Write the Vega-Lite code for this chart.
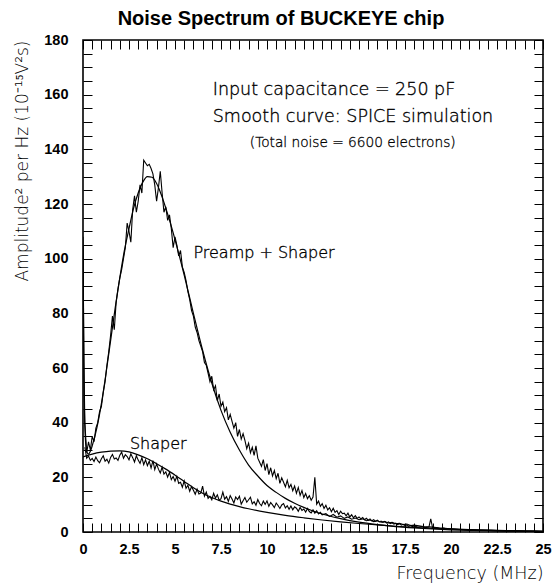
{
  "$schema": "https://vega.github.io/schema/vega-lite/v6.json",
  "width": 460,
  "height": 492,
  "autosize": "none",
  "padding": {"left": 83, "top": 40, "right": 10, "bottom": 54},
  "config": {
    "view": {"stroke": "#000", "strokeWidth": 1.6},
    "axis": {"grid": false, "domain": false, "tickColor": "#000", "tickWidth": 1, "labelColor": "#000", "titleColor": "#000", "labelFont": "Liberation Sans", "labelFontWeight": "bold", "labelFontSize": 14.5, "titleFont": "DejaVu Sans", "titleFontWeight": 200, "labelOverlap": false, "labelFlush": false}
  },
  "title": {"text": "Noise Spectrum of BUCKEYE chip", "font": "Liberation Sans", "fontWeight": "bold", "fontSize": 20, "color": "#000", "anchor": "middle", "dx": -32, "offset": 3},
  "datasets": {
    "ps_meas": [
      {"x":0,"y":108},{"x":0.05,"y":62},{"x":0.1,"y":40},{"x":0.2,"y":29},{"x":0.3,"y":33},{"x":0.4,"y":30},{"x":0.5,"y":35},{"x":0.6,"y":33},{"x":0.7,"y":38},{"x":0.8,"y":40},{"x":0.9,"y":44},
      {"x":1.0,"y":46},{"x":1.1,"y":51},{"x":1.2,"y":55},{"x":1.3,"y":61},{"x":1.4,"y":66},{"x":1.5,"y":72},{"x":1.6,"y":79},{"x":1.7,"y":74},{"x":1.8,"y":84},{"x":1.9,"y":89},
      {"x":2.0,"y":93},{"x":2.1,"y":96},{"x":2.2,"y":100},{"x":2.3,"y":104},{"x":2.4,"y":113},{"x":2.5,"y":110},{"x":2.6,"y":106},{"x":2.7,"y":118},{"x":2.8,"y":123},{"x":2.9,"y":117},
      {"x":3.0,"y":121},{"x":3.1,"y":127},{"x":3.2,"y":124},{"x":3.3,"y":136},{"x":3.4,"y":135},{"x":3.5,"y":134},{"x":3.6,"y":134.5},{"x":3.7,"y":133},{"x":3.8,"y":131},{"x":3.9,"y":127},
      {"x":4.0,"y":121},{"x":4.1,"y":126},{"x":4.2,"y":132},{"x":4.3,"y":124},{"x":4.4,"y":117},{"x":4.5,"y":119},{"x":4.6,"y":114},{"x":4.7,"y":116},{"x":4.8,"y":111},{"x":4.9,"y":104},
      {"x":5.0,"y":108},{"x":5.1,"y":105},{"x":5.2,"y":101},{"x":5.3,"y":103},{"x":5.4,"y":97},{"x":5.5,"y":95},{"x":5.6,"y":92},{"x":5.7,"y":88},{"x":5.8,"y":85},{"x":5.9,"y":81},
      {"x":6.0,"y":79},{"x":6.1,"y":75},{"x":6.2,"y":73},{"x":6.3,"y":70},{"x":6.4,"y":68},{"x":6.5,"y":66},{"x":6.6,"y":62},{"x":6.7,"y":61},{"x":6.8,"y":58},{"x":6.9,"y":55},
      {"x":7.0,"y":57},{"x":7.1,"y":52},{"x":7.2,"y":53.5},{"x":7.3,"y":48},{"x":7.4,"y":50.5},{"x":7.5,"y":46},{"x":7.6,"y":47.5},{"x":7.7,"y":44},{"x":7.8,"y":45.5},{"x":7.9,"y":41},
      {"x":8.0,"y":43},{"x":8.1,"y":40.5},{"x":8.2,"y":38},{"x":8.3,"y":40},{"x":8.4,"y":35},{"x":8.5,"y":37.5},{"x":8.6,"y":34},{"x":8.7,"y":36},{"x":8.8,"y":33.5},{"x":8.9,"y":30.5},
      {"x":9.0,"y":32.5},{"x":9.1,"y":29},{"x":9.2,"y":31},{"x":9.3,"y":28},{"x":9.4,"y":31.5},{"x":9.5,"y":27},{"x":9.6,"y":25.5},{"x":9.7,"y":24},{"x":9.8,"y":26.5},{"x":9.9,"y":22.5},
      {"x":10.0,"y":25},{"x":10.1,"y":21},{"x":10.2,"y":23.5},{"x":10.3,"y":20.5},{"x":10.4,"y":22.5},{"x":10.5,"y":19.5},{"x":10.6,"y":21.5},{"x":10.7,"y":17.8},{"x":10.8,"y":19.8},{"x":10.9,"y":18.2},
      {"x":11.0,"y":16.5},{"x":11.1,"y":18.9},{"x":11.2,"y":16.2},{"x":11.3,"y":17.4},{"x":11.4,"y":15.1},{"x":11.5,"y":16.8},{"x":11.6,"y":14.2},{"x":11.7,"y":16.3},{"x":11.8,"y":13.4},{"x":11.9,"y":15.2},
      {"x":12.0,"y":12.6},{"x":12.1,"y":14.1},{"x":12.2,"y":12.2},{"x":12.3,"y":13.3},{"x":12.4,"y":11.6},{"x":12.5,"y":12.8},{"x":12.6,"y":20},{"x":12.7,"y":10.2},{"x":12.8,"y":11.3},{"x":12.9,"y":9.4},
      {"x":13.0,"y":10.4},{"x":13.1,"y":8.6},{"x":13.2,"y":9.8},{"x":13.3,"y":8.1},{"x":13.4,"y":8.9},{"x":13.5,"y":7.4},{"x":13.6,"y":8.7},{"x":13.7,"y":7.2},{"x":13.8,"y":7.8},{"x":13.9,"y":6.4},
      {"x":14.0,"y":7.6},{"x":14.1,"y":6.7},{"x":14.2,"y":6.9},{"x":14.3,"y":5.9},{"x":14.4,"y":6.9},{"x":14.5,"y":5.5},{"x":14.6,"y":6.3},{"x":14.7,"y":5.2},{"x":14.8,"y":6},{"x":14.9,"y":5},
      {"x":15.0,"y":5.5},{"x":15.1,"y":4.8},{"x":15.2,"y":5.3},{"x":15.3,"y":4.5},{"x":15.4,"y":5},{"x":15.5,"y":4.3},{"x":15.6,"y":4.8},{"x":15.7,"y":4.1},{"x":15.8,"y":4.5},{"x":15.9,"y":3.9},
      {"x":16.0,"y":4.3},{"x":16.1,"y":3.7},{"x":16.2,"y":4},{"x":16.3,"y":3.5},{"x":16.4,"y":3.9},{"x":16.5,"y":3.3},{"x":16.6,"y":3.7},{"x":16.7,"y":3.1},{"x":16.8,"y":3.4},{"x":16.9,"y":2.9},
      {"x":17.0,"y":3.2},{"x":17.1,"y":2.7},{"x":17.2,"y":3},{"x":17.3,"y":2.5},{"x":17.4,"y":2.8},{"x":17.5,"y":2.3},{"x":17.6,"y":2.6},{"x":17.7,"y":2.1},{"x":17.8,"y":2.4},{"x":17.9,"y":2},
      {"x":18.0,"y":2.2},{"x":18.2,"y":1.8},{"x":18.4,"y":2},{"x":18.6,"y":1.6},{"x":18.8,"y":1.8},{"x":18.9,"y":4.8},{"x":19.0,"y":1.5},{"x":19.2,"y":1.6},{"x":19.4,"y":1.3},{"x":19.6,"y":1.4},{"x":19.8,"y":1.1},
      {"x":20.0,"y":1.2},{"x":20.5,"y":0.9},{"x":21,"y":0.8},{"x":21.5,"y":0.6},{"x":22,"y":0.6},{"x":22.5,"y":0.5},{"x":23,"y":0.4},{"x":23.5,"y":0.4},{"x":24,"y":0.3},{"x":24.5,"y":0.3},{"x":25,"y":0.2}
    ],
    "ps_sim": [
      {"x":0,"y":105},{"x":0.03,"y":75},{"x":0.06,"y":52},{"x":0.1,"y":39},{"x":0.15,"y":32},{"x":0.2,"y":29.5},{"x":0.3,"y":28.5},{"x":0.4,"y":29.5},{"x":0.5,"y":31.5},{"x":0.75,"y":38},
      {"x":1.0,"y":47},{"x":1.25,"y":58},{"x":1.5,"y":70},{"x":1.75,"y":82},{"x":2.0,"y":93},{"x":2.25,"y":103},{"x":2.5,"y":111},{"x":2.75,"y":118.5},{"x":3.0,"y":124},{"x":3.25,"y":128},
      {"x":3.5,"y":130},{"x":3.75,"y":129.8},{"x":4.0,"y":127.5},{"x":4.25,"y":123.5},{"x":4.5,"y":118.5},{"x":4.75,"y":113},{"x":5.0,"y":107},{"x":5.5,"y":94},{"x":6.0,"y":80},{"x":6.5,"y":66.5},
      {"x":7.0,"y":54.5},{"x":7.5,"y":44.5},{"x":8.0,"y":36.5},{"x":8.5,"y":30},{"x":9.0,"y":24.5},{"x":9.5,"y":20.5},{"x":10,"y":17},{"x":10.5,"y":14.5},{"x":11,"y":12.3},{"x":11.5,"y":10.5},
      {"x":12,"y":9},{"x":12.5,"y":7.7},{"x":13,"y":6.6},{"x":14,"y":4.9},{"x":15,"y":3.6},{"x":16,"y":2.7},{"x":17,"y":2},{"x":18,"y":1.5},{"x":19,"y":1.1},{"x":20,"y":0.8},
      {"x":21,"y":0.6},{"x":22,"y":0.45},{"x":23,"y":0.35},{"x":24,"y":0.25},{"x":25,"y":0.2}
    ],
    "sh_meas": [
      {"x":0.1,"y":31},{"x":0.2,"y":27},{"x":0.3,"y":27.8},{"x":0.4,"y":26.2},{"x":0.5,"y":26.9},{"x":0.6,"y":25.8},{"x":0.7,"y":27.4},{"x":0.8,"y":26.1},{"x":0.9,"y":25.3},
      {"x":1.0,"y":26.8},{"x":1.1,"y":27.9},{"x":1.2,"y":25.9},{"x":1.3,"y":26.6},{"x":1.4,"y":25.2},{"x":1.5,"y":27.3},{"x":1.6,"y":28.4},{"x":1.7,"y":26.7},{"x":1.8,"y":27.1},{"x":1.9,"y":26.2},
      {"x":2.0,"y":28.1},{"x":2.1,"y":29.2},{"x":2.2,"y":27.0},{"x":2.3,"y":28.3},{"x":2.4,"y":27.6},{"x":2.5,"y":26.4},{"x":2.6,"y":28.6},{"x":2.7,"y":27.2},{"x":2.8,"y":25.6},{"x":2.9,"y":27.9},
      {"x":3.0,"y":26.3},{"x":3.1,"y":25.1},{"x":3.2,"y":27.2},{"x":3.3,"y":24.6},{"x":3.4,"y":26.4},{"x":3.5,"y":24.3},{"x":3.6,"y":25.9},{"x":3.7,"y":23.4},{"x":3.8,"y":26.1},{"x":3.9,"y":22.8},
      {"x":4.0,"y":24.9},{"x":4.1,"y":23.0},{"x":4.2,"y":21.6},{"x":4.3,"y":23.7},{"x":4.4,"y":21.2},{"x":4.5,"y":22.0},{"x":4.6,"y":20.1},{"x":4.7,"y":21.8},{"x":4.8,"y":19.2},{"x":4.9,"y":20.3},
      {"x":5.0,"y":18.6},{"x":5.1,"y":20.4},{"x":5.2,"y":17.8},{"x":5.3,"y":18.2},{"x":5.4,"y":16.4},{"x":5.5,"y":18.7},{"x":5.6,"y":16.0},{"x":5.7,"y":17.1},{"x":5.8,"y":14.9},{"x":5.9,"y":16.6},
      {"x":6.0,"y":15.3},{"x":6.1,"y":13.8},{"x":6.2,"y":15.7},{"x":6.3,"y":13.9},{"x":6.4,"y":14.2},{"x":6.5,"y":16.8},{"x":6.6,"y":13.1},{"x":6.7,"y":14.6},{"x":6.8,"y":12.3},{"x":6.9,"y":13.0},
      {"x":7.0,"y":11.8},{"x":7.1,"y":14.2},{"x":7.2,"y":12.4},{"x":7.3,"y":13.6},{"x":7.4,"y":11.6},{"x":7.5,"y":12.2},{"x":7.6,"y":14.6},{"x":7.7,"y":12.0},{"x":7.8,"y":12.9},{"x":7.9,"y":11.2},
      {"x":8.0,"y":13.3},{"x":8.1,"y":12.1},{"x":8.2,"y":10.6},{"x":8.3,"y":12.8},{"x":8.4,"y":11.9},{"x":8.5,"y":13.1},{"x":8.6,"y":10.2},{"x":8.7,"y":11.4},{"x":8.8,"y":12.6},{"x":8.9,"y":10.9},
      {"x":9.0,"y":11.8},{"x":9.1,"y":12.7},{"x":9.2,"y":10.3},{"x":9.3,"y":11.1},{"x":9.4,"y":9.8},{"x":9.5,"y":11.9},{"x":9.6,"y":10.4},{"x":9.7,"y":9.6},{"x":9.8,"y":11.3},{"x":9.9,"y":10.1},
      {"x":10.0,"y":11.4},{"x":10.1,"y":9.4},{"x":10.2,"y":10.8},{"x":10.3,"y":9.9},{"x":10.4,"y":8.9},{"x":10.5,"y":10.6},{"x":10.6,"y":9.7},{"x":10.7,"y":8.6},{"x":10.8,"y":9.9},{"x":10.9,"y":10.4},
      {"x":11.0,"y":8.8},{"x":11.1,"y":9.6},{"x":11.2,"y":8.3},{"x":11.3,"y":9.5},{"x":11.4,"y":8.1},{"x":11.5,"y":9.2},{"x":11.6,"y":8.7},{"x":11.7,"y":7.6},{"x":11.8,"y":9.0},{"x":11.9,"y":7.9},
      {"x":12.0,"y":8.4},{"x":12.1,"y":7.3},{"x":12.2,"y":8.6},{"x":12.3,"y":7.5},{"x":12.4,"y":7.0},{"x":12.5,"y":8.1},{"x":12.6,"y":6.9},{"x":12.7,"y":7.8},{"x":12.8,"y":6.6},{"x":12.9,"y":7.2},
      {"x":13.0,"y":6.3},{"x":13.2,"y":6.7},{"x":13.4,"y":5.7},{"x":13.6,"y":6.4},{"x":13.8,"y":5.4},{"x":14.0,"y":5.9},{"x":14.2,"y":5.0},{"x":14.4,"y":5.5},{"x":14.6,"y":4.7},{"x":14.8,"y":5.1},
      {"x":15.0,"y":4.5},{"x":15.2,"y":4.8},{"x":15.4,"y":4.1},{"x":15.6,"y":4.4},{"x":15.8,"y":3.8},{"x":16.0,"y":4.1},{"x":16.2,"y":3.6},{"x":16.4,"y":3.8},{"x":16.6,"y":3.3},{"x":16.8,"y":3.5},
      {"x":17.0,"y":3},{"x":17.2,"y":3.2},{"x":17.4,"y":2.7},{"x":17.6,"y":2.9},{"x":17.8,"y":2.4},{"x":18.0,"y":2.5},{"x":18.5,"y":2},{"x":19,"y":1.8},{"x":19.5,"y":1.4},{"x":20,"y":1.2},
      {"x":21,"y":0.9},{"x":22,"y":0.7},{"x":23,"y":0.5},{"x":24,"y":0.4},{"x":25,"y":0.3}
    ],
    "sh_sim": [
      {"x":0,"y":27.5},{"x":0.5,"y":28.5},{"x":1,"y":29.2},{"x":1.5,"y":29.6},{"x":2,"y":29.7},{"x":2.5,"y":29.3},{"x":3,"y":28.2},{"x":3.5,"y":26.8},{"x":4,"y":25},{"x":4.5,"y":23},
      {"x":5,"y":20.8},{"x":5.5,"y":18.5},{"x":6,"y":16.2},{"x":6.5,"y":14.2},{"x":7,"y":12.6},{"x":7.5,"y":11.3},{"x":8,"y":10.2},{"x":8.5,"y":9.3},{"x":9,"y":8.5},{"x":10,"y":7.2},
      {"x":11,"y":6.1},{"x":12,"y":5.2},{"x":13,"y":4.4},{"x":14,"y":3.7},{"x":15,"y":3.1},{"x":16,"y":2.6},{"x":17,"y":2.1},{"x":18,"y":1.7},{"x":19,"y":1.3},{"x":20,"y":1.0},
      {"x":21,"y":0.8},{"x":22,"y":0.6},{"x":23,"y":0.45},{"x":24,"y":0.35},{"x":25,"y":0.25}
    ],
    "big_text": [
      {"x":7.05,"y":161.7,"t":"Input capacitance = 250 pF"},
      {"x":7.05,"y":152,"t":"Smooth curve: SPICE simulation"}
    ],
    "small_text": [
      {"x":14.66,"y":142.5,"t":"(Total noise = 6600 electrons)"}
    ],
    "curve_text": [
      {"x":6.0,"y":102,"t":"Preamp + Shaper"},
      {"x":2.55,"y":32.2,"t":"Shaper"}
    ]
  },
  "layer": [
    {
      "data": {"name": "ps_meas"},
      "mark": {"type": "line", "color": "#000", "strokeWidth": 1.1, "clip": true},
      "encoding": {
        "x": {"field": "x", "type": "quantitative", "scale": {"domain": [0, 25], "nice": false},
          "axis": {"orient": "bottom", "values": [0,0.5,1,1.5,2,2.5,3,3.5,4,4.5,5,5.5,6,6.5,7,7.5,8,8.5,9,9.5,10,10.5,11,11.5,12,12.5,13,13.5,14,14.5,15,15.5,16,16.5,17,17.5,18,18.5,19,19.5,20,20.5,21,21.5,22,22.5,23,23.5,24,24.5,25],
            "format": "~g", "labelExpr": "datum.value % 2.5 === 0 ? datum.label : ''", "tickSize": -9, "labelPadding": 19,
            "encode": {"ticks": {"update": {"y2": {"signal": "datum.value % 2.5 === 0 ? -9 : -4.5"}}}, "title": {"update": {"stroke": {"value": "#000"}, "strokeWidth": {"value": 0.35}}}},
            "title": "Frequency (MHz)", "titleAnchor": "end", "titleFontSize": 17.5, "titlePadding": 9}},
        "y": {"field": "y", "type": "quantitative", "scale": {"domain": [0, 180], "nice": false},
          "axis": {"orient": "left", "values": [0,5,10,15,20,25,30,35,40,45,50,55,60,65,70,75,80,85,90,95,100,105,110,115,120,125,130,135,140,145,150,155,160,165,170,175,180],
            "format": "d", "labelExpr": "datum.value % 20 === 0 ? datum.label : ''", "tickSize": -9, "labelPadding": 24,
            "encode": {"ticks": {"update": {"x2": {"signal": "datum.value % 20 === 0 ? 9 : 4.5"}}}, "title": {"update": {"stroke": {"value": "#000"}, "strokeWidth": {"value": 0.35}}}},
            "title": "Amplitude² per Hz (10⁻¹⁵V²s)", "titleAnchor": "end", "titleFontSize": 17, "titlePadding": 12}}
      }
    },
    {
      "data": {"name": "sh_meas"},
      "mark": {"type": "line", "color": "#000", "strokeWidth": 1.1, "clip": true},
      "encoding": {
        "x": {"field": "x", "type": "quantitative",
          "axis": {"orient": "top", "values": [0,0.5,1,1.5,2,2.5,3,3.5,4,4.5,5,5.5,6,6.5,7,7.5,8,8.5,9,9.5,10,10.5,11,11.5,12,12.5,13,13.5,14,14.5,15,15.5,16,16.5,17,17.5,18,18.5,19,19.5,20,20.5,21,21.5,22,22.5,23,23.5,24,24.5,25],
            "labels": false, "title": null, "tickSize": -9,
            "encode": {"ticks": {"update": {"y2": {"signal": "datum.value % 2.5 === 0 ? 9 : 4.5"}}}}}},
        "y": {"field": "y", "type": "quantitative",
          "axis": {"orient": "right", "values": [0,5,10,15,20,25,30,35,40,45,50,55,60,65,70,75,80,85,90,95,100,105,110,115,120,125,130,135,140,145,150,155,160,165,170,175,180],
            "labels": false, "title": null, "tickSize": -9,
            "encode": {"ticks": {"update": {"x2": {"signal": "datum.value % 20 === 0 ? -9 : -4.5"}}}}}}
      }
    },
    {
      "data": {"name": "ps_sim"},
      "mark": {"type": "line", "color": "#000", "strokeWidth": 1.2, "interpolate": "monotone", "clip": true},
      "encoding": {
        "x": {"field": "x", "type": "quantitative", "axis": null},
        "y": {"field": "y", "type": "quantitative", "axis": null}
      }
    },
    {
      "data": {"name": "sh_sim"},
      "mark": {"type": "line", "color": "#000", "strokeWidth": 1.2, "interpolate": "monotone", "clip": true},
      "encoding": {
        "x": {"field": "x", "type": "quantitative", "axis": null},
        "y": {"field": "y", "type": "quantitative", "axis": null}
      }
    },
    {
      "data": {"name": "big_text"},
      "mark": {"type": "text", "align": "left", "baseline": "middle", "font": "DejaVu Sans", "fontWeight": 200, "fontSize": 17.5, "color": "#000", "stroke": "#000", "strokeWidth": 0.35},
      "encoding": {
        "x": {"field": "x", "type": "quantitative", "axis": null},
        "y": {"field": "y", "type": "quantitative", "axis": null},
        "text": {"field": "t"}
      }
    },
    {
      "data": {"name": "small_text"},
      "mark": {"type": "text", "align": "center", "baseline": "middle", "font": "DejaVu Sans", "fontWeight": 200, "fontSize": 13.7, "color": "#000", "stroke": "#000", "strokeWidth": 0.3},
      "encoding": {
        "x": {"field": "x", "type": "quantitative", "axis": null},
        "y": {"field": "y", "type": "quantitative", "axis": null},
        "text": {"field": "t"}
      }
    },
    {
      "data": {"name": "curve_text"},
      "mark": {"type": "text", "align": "left", "baseline": "middle", "font": "DejaVu Sans", "fontWeight": 200, "fontSize": 16, "color": "#000", "stroke": "#000", "strokeWidth": 0.35},
      "encoding": {
        "x": {"field": "x", "type": "quantitative", "axis": null},
        "y": {"field": "y", "type": "quantitative", "axis": null},
        "text": {"field": "t"}
      }
    }
  ],
  "resolve": {"axis": {"x": "independent", "y": "independent"}}
}
